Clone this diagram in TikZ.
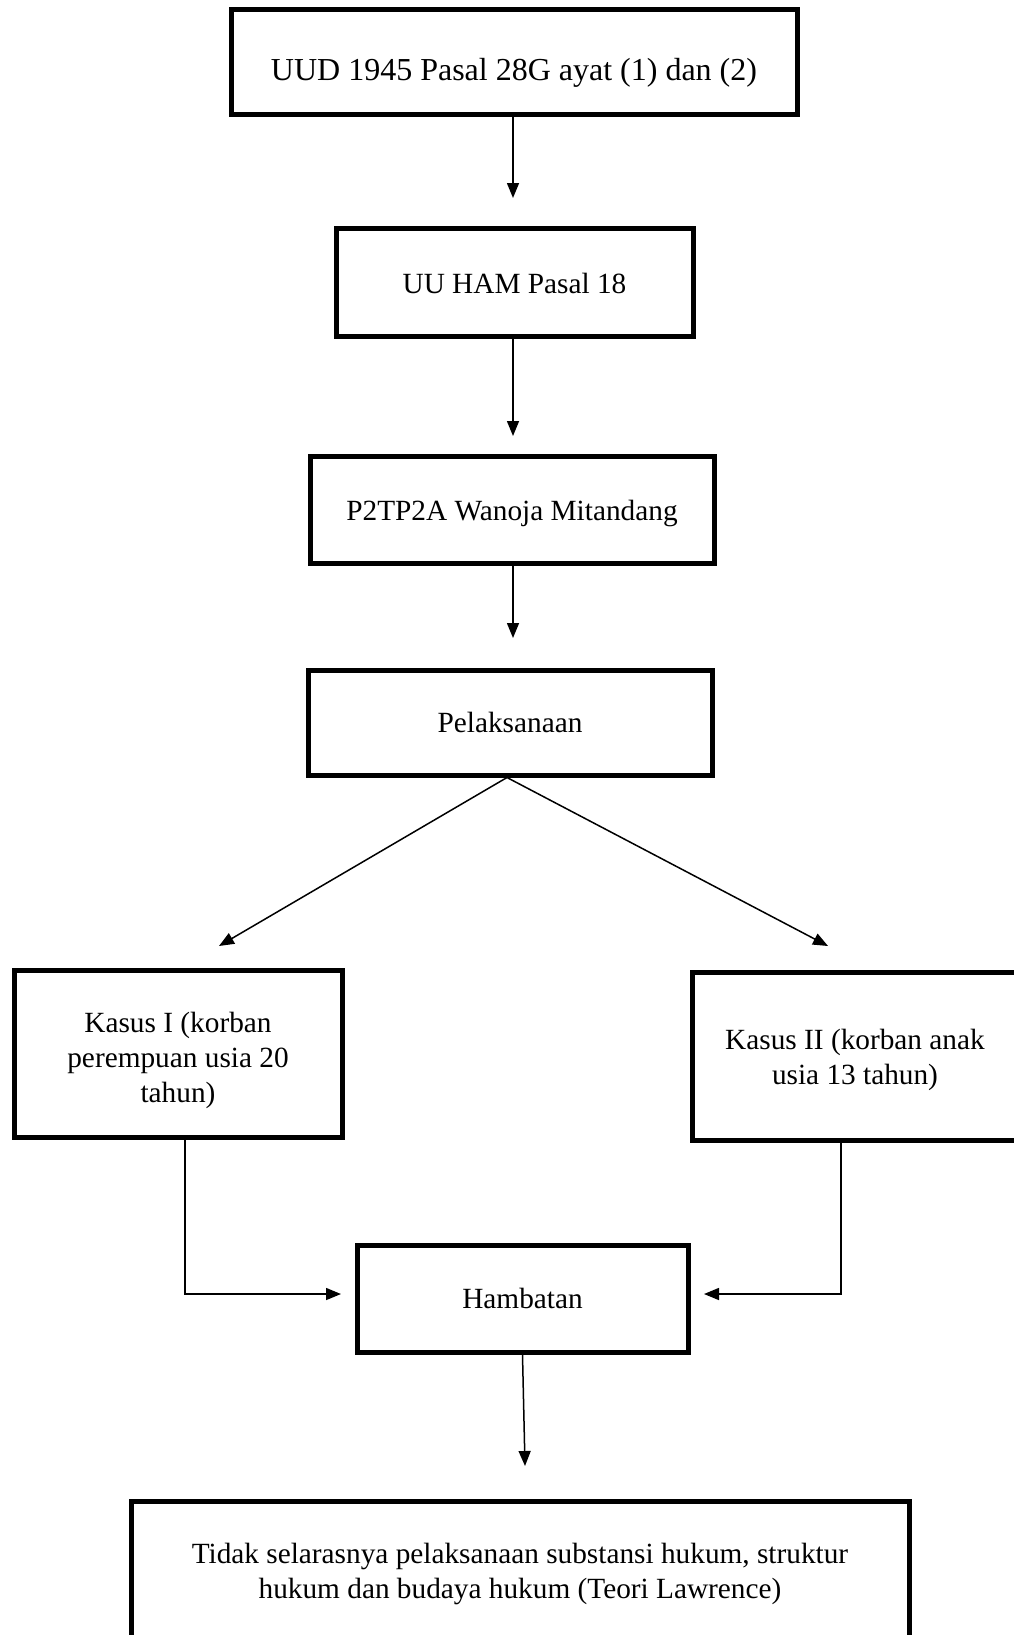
\documentclass[tikz,border=0pt]{standalone}
\usepackage{fontspec}
\setmainfont{Liberation Serif}
\usetikzlibrary{arrows.meta}

\begin{document}
\begin{tikzpicture}[x=1pt, y=-1pt,
    kotak/.style={draw, line width=5pt, align=center, inner sep=0pt, font=\fontsize{29.3}{35}\selectfont},
    panah/.style={line width=1.5pt, -{Triangle[width=12pt, length=15pt]}}]
            \useasboundingbox (0,0) rectangle (1013,1635);
            \node[kotak, minimum width=566, minimum height=105, font=\fontsize{32}{38}\selectfont, text height=42pt] (uud) at (514,62.5) {UUD 1945 Pasal 28G ayat (1) dan (2)};
            \node[kotak, minimum width=357, minimum height=108, text height=24pt] (uuham) at (514.5,282) {UU HAM Pasal 18};
            \node[kotak, minimum width=404, minimum height=107, text height=28pt] (ptp) at (512,509.5) {P2TP2A Wanoja Mitandang};
            \node[kotak, minimum width=404, minimum height=105] (laksana) at (510,722.5) {Pelaksanaan};
            \node[kotak, minimum width=328, minimum height=167] (kasusa) at (178,1053.5) {\rule{0pt}{34pt}Kasus I (korban\\perempuan usia 20\\tahun)};
            \node[kotak, minimum width=326, minimum height=168] (kasusb) at (855,1056) {\rule{0pt}{28pt}Kasus II (korban anak\\usia 13 tahun)};
            \node[kotak, minimum width=331, minimum height=107] (hambat) at (522.5,1298.5) {Hambatan};
            \node[kotak, minimum width=778, minimum height=146] (hasil) at (520,1574) {Tidak selarasnya pelaksanaan substansi hukum, struktur\\hukum dan budaya hukum (Teori Lawrence)};

            %ujung panah tidak menyentuh kotak, jadi pakai coordinate
            \coordinate (t1) at (513,198);
            \coordinate (t2) at (513,436);
            \coordinate (t3) at (513,638);
            \coordinate (tl) at (219,946);
            \coordinate (tr) at (828,946);
            \coordinate (hl) at (341,1294);
            \coordinate (hr) at (704,1294);
            \coordinate (t4) at (525,1466);

            \draw[panah] (uud.south -| t1) -- (t1);
            \draw[panah] (uuham.south -| t2) -- (t2);
            \draw[panah] (ptp.south -| t3) -- (t3);
            \draw[panah] ([xshift=-3pt]laksana.south) -- (tl);
            \draw[panah] ([xshift=-3pt]laksana.south) -- (tr);
            \draw[panah] ([xshift=7pt]kasusa.south) |- (hl);
            \draw[panah] ([xshift=-14pt]kasusb.south) |- (hr);
            \draw[panah] (hambat.south) -- (t4);
        \end{tikzpicture}
\end{document}
